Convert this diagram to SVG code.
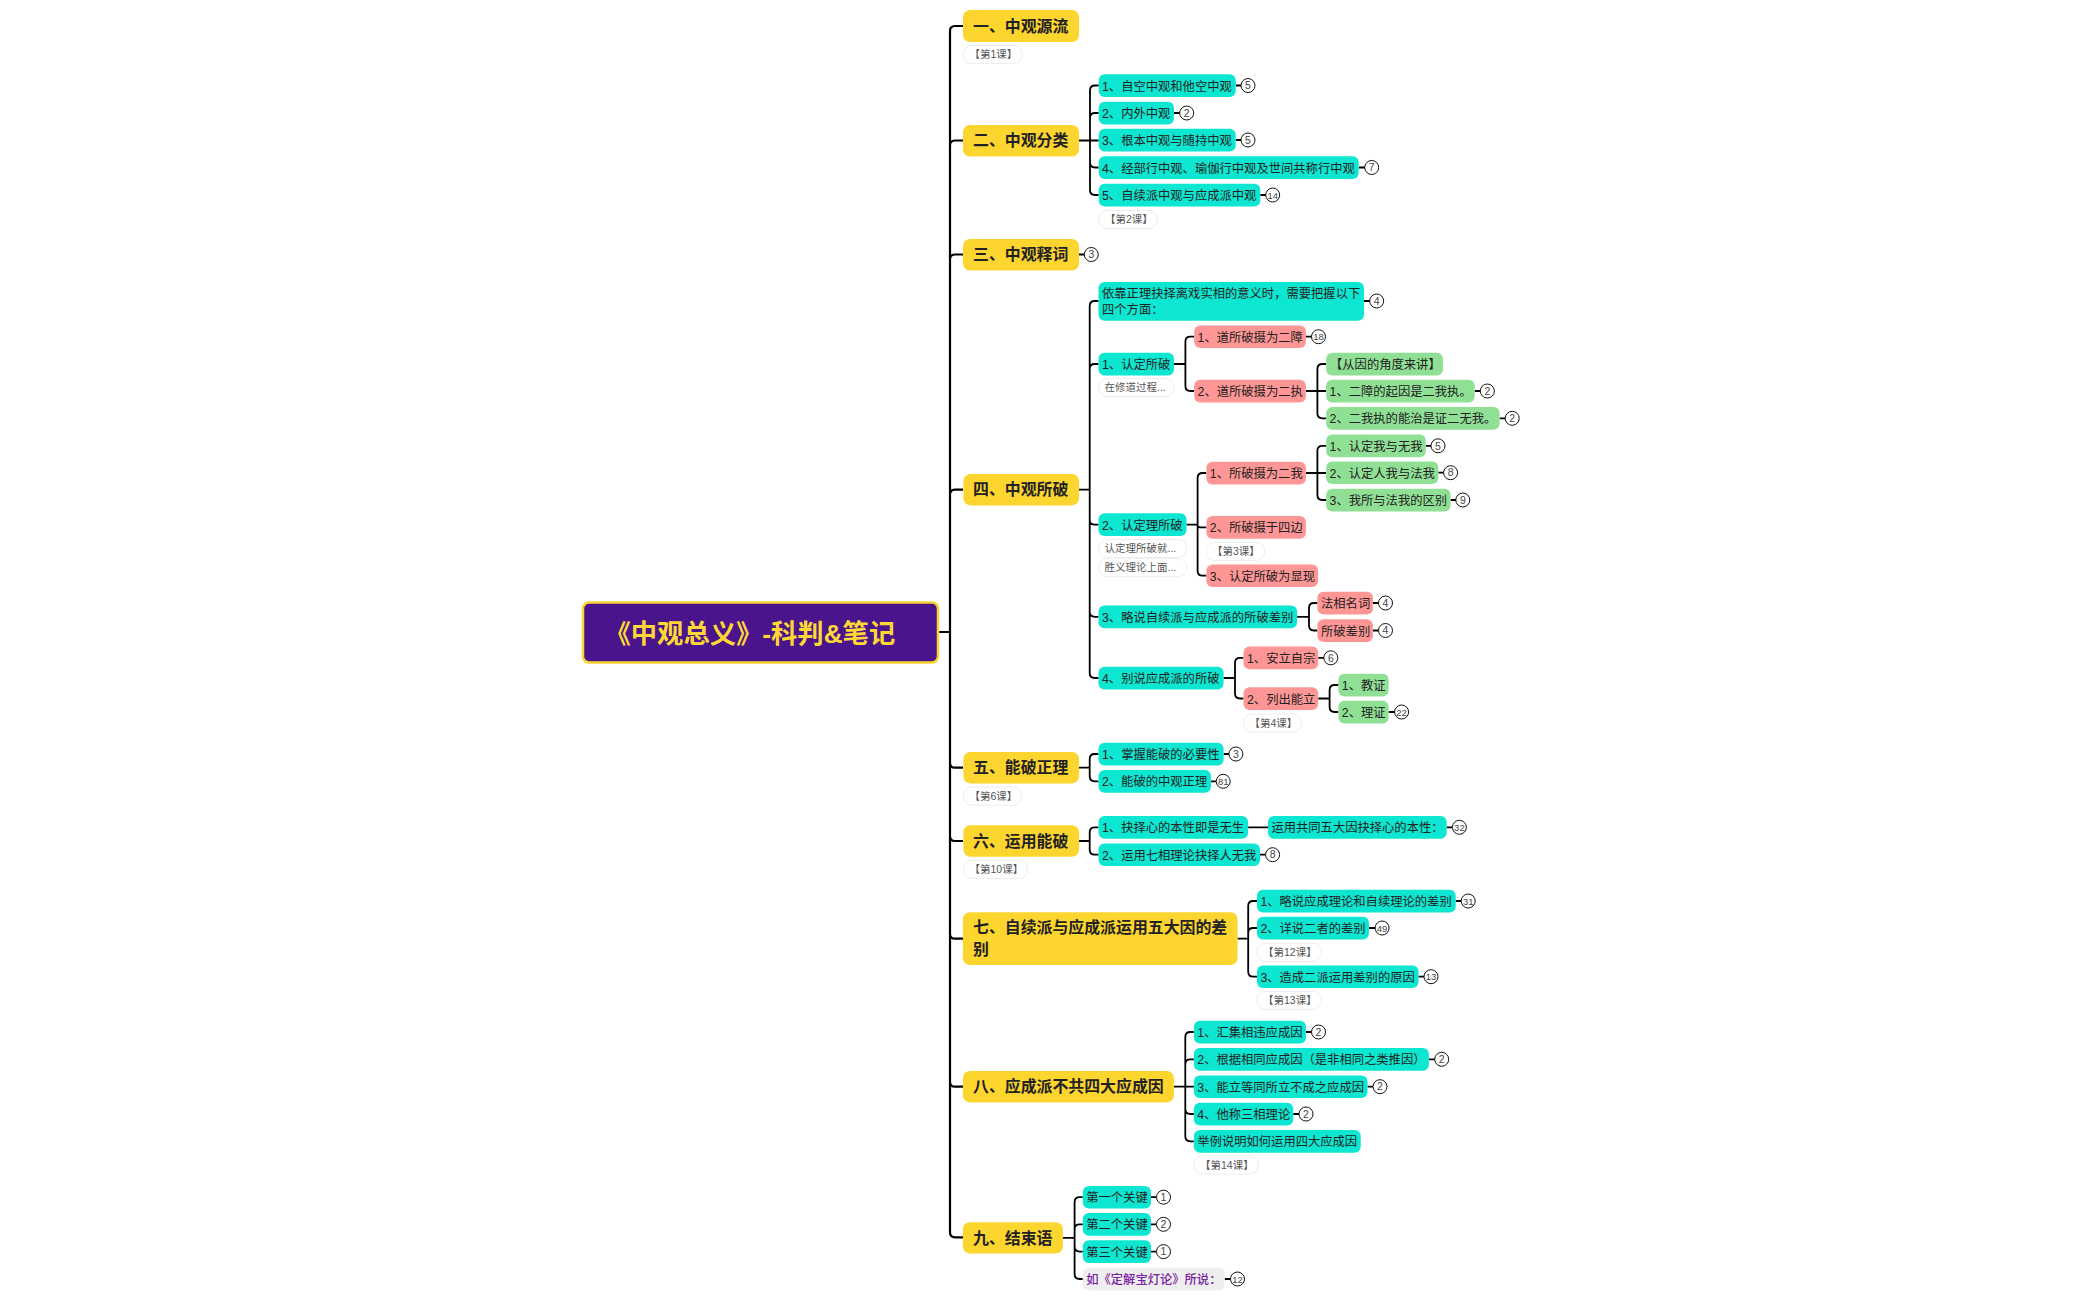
<svg xmlns="http://www.w3.org/2000/svg" width="2100" height="1300" viewBox="0 0 2100 1300">
<style>
text{font-family:"Liberation Sans","Noto Sans CJK SC",sans-serif;fill:#222}
.root{fill:#4a148c;stroke:#fdd32f;stroke-width:2.5}
.rt{font-size:26.300px;font-weight:bold;fill:#fdd835}
.a{fill:#fdd52f}
.at{font-size:15.900px;font-weight:bold;fill:#222;transform:translateY(.3px)}
.b{fill:#0de6d0}
.r{fill:#fe9696}
.g{fill:#8fdf95}
.p{fill:#eeeeee}
.bt{font-size:12.300px;transform:translateY(.7px)}
.pt{font-size:12.300px;font-weight:500;fill:#7b1fa2;transform:translateY(.7px)}
.n{fill:#fff;stroke:#eee;stroke-width:1}
.nt{font-size:10.500px;fill:#555;transform:translateY(.5px)}
.c{fill:#fff;stroke:#111;stroke-width:1}
.ct{font-size:10.500px;fill:#444;text-anchor:middle;transform:translateY(.6px)}
.ct2{font-size:9.500px;fill:#444;text-anchor:middle;transform:translateY(.5px)}
#connectors path{fill:none;stroke:#000;stroke-width:1.8}
#connectors path.s{stroke-width:2.200}
</style>
<g id="connectors">
<path class="s" d="M939 632H950M950 632V31Q950 26 955 26H963M950 145.500Q950 140.500 955 140.500H963M950 259.500Q950 254.500 955 254.500H963M950 494.700Q950 489.700 955 489.700H963M950 632V1232.300Q950 1237.300 955 1237.300H963M950 762.700Q950 767.700 955 767.700H963M950 836Q950 841 955 841H963M950 933.700Q950 938.700 955 938.700H963M950 1081.700Q950 1086.700 955 1086.700H963"/>
<path d="M1079 140.500H1098.700M1090 140.500V90.500Q1090 85.500 1095 85.500H1098.700M1090 140.500V118Q1090 113 1095 113H1098.700M1090 140.500V162.500Q1090 167.500 1095 167.500H1098.700M1090 140.500V190Q1090 195 1095 195H1098.700"/>
<path d="M1235.700 85.500H1241M1174 113H1180M1235.700 140H1241M1358.700 167.500H1365M1260.300 195H1266M1079 254.500H1084"/>
<path d="M1079 489.700H1089.700M1089.700 489.700V306Q1089.700 301 1094.700 301H1098.500M1089.700 489.700V369Q1089.700 364 1094.700 364H1098.500M1089.700 489.700V519.700Q1089.700 524.700 1094.700 524.700H1098.500M1089.700 489.700V611.800Q1089.700 616.800 1094.700 616.800H1098.500M1089.700 489.700V673Q1089.700 678 1094.700 678H1098.500"/>
<path d="M1364 301H1370M1305.900 336.700H1312M1474.700 391H1480M1499.600 418.300H1505M1425.700 445.800H1431M1438.300 472.700H1444M1450.600 500H1456M1372.900 603H1379M1372.900 630.500H1379M1318.200 657.800H1324M1388.600 712H1395M1223.600 754H1229M1211 781.300H1216M1446.700 827.300H1452M1260 854.700H1266M1455.700 901H1461M1368.900 928H1375M1418.500 976.700H1424M1306 1032H1311M1428.900 1059.300H1435M1367.500 1086.700H1373M1293.200 1114H1299M1151 1197.200H1156M1151 1224.300H1156M1151 1251.600H1156M1224.600 1279H1230"/>
<path d="M1174 364H1185.400M1185.400 364V341.700Q1185.400 336.700 1190.400 336.700H1194.200M1185.400 364V386Q1185.400 391 1190.400 391H1194.200"/>
<path d="M1305.900 391H1326.200M1317.400 391V369Q1317.400 364 1322.400 364H1326.200M1317.400 391V413.300Q1317.400 418.300 1322.400 418.300H1326.200"/>
<path d="M1186.500 524.700H1197.600M1197.600 524.700V478Q1197.600 473 1202.600 473H1206.400M1197.600 524.700V525Q1197.600 527.300 1200 527.300H1206.400M1197.600 524.700V570.700Q1197.600 575.700 1202.600 575.700H1206.400"/>
<path d="M1305.900 473H1326.200M1317.400 473V450.800Q1317.400 445.800 1322.400 445.800H1326.200M1317.400 473V495Q1317.400 500 1322.400 500H1326.200"/>
<path d="M1297.100 616.800H1309M1309 616.800V608Q1309 603 1314 603H1317.400M1309 616.800V625.500Q1309 630.500 1314 630.500H1317.400"/>
<path d="M1223.600 678H1235M1235 678V662.800Q1235 657.800 1240 657.800H1243.500M1235 678V693.500Q1235 698.500 1240 698.500H1243.500"/>
<path d="M1318.200 698.500H1329.600M1329.600 698.500V690Q1329.600 685 1334.600 685H1338.400M1329.600 698.500V707Q1329.600 712 1334.600 712H1338.400"/>
<path d="M1079 767.700H1089.700M1089.700 767.700V759Q1089.700 754 1094.700 754H1098.500M1089.700 767.700V776.300Q1089.700 781.300 1094.700 781.300H1098.500"/>
<path d="M1079 841H1089.700M1089.700 841V832.300Q1089.700 827.300 1094.700 827.300H1098.500M1089.700 841V849.700Q1089.700 854.700 1094.700 854.700H1098.500M1248.100 827.300H1268"/>
<path d="M1237.500 938.700H1248.200M1248.200 938.700V906Q1248.200 901 1253.200 901H1257M1248.200 938.700V933Q1248.200 928 1253.200 928H1257M1248.200 938.700V971.700Q1248.200 976.700 1253.200 976.700H1257"/>
<path d="M1173.900 1086.700H1193.900M1185.300 1086.700V1037Q1185.300 1032 1190.300 1032H1193.900M1185.300 1086.700V1064.300Q1185.300 1059.300 1190.300 1059.300H1193.900M1185.300 1086.700V1109Q1185.300 1114 1190.300 1114H1193.900M1185.300 1086.700V1136.300Q1185.300 1141.300 1190.300 1141.300H1193.900"/>
<path d="M1062.900 1237.800H1074.600M1074.600 1237.800V1202.200Q1074.600 1197.200 1079.600 1197.200H1082.800M1074.600 1237.800V1229.300Q1074.600 1224.300 1079.600 1224.300H1082.800M1074.600 1237.800V1246.600Q1074.600 1251.600 1079.600 1251.600H1082.800M1074.600 1237.800V1274Q1074.600 1279 1079.600 1279H1082.800"/>
</g>
<g id="root"><rect class="root" x="583" y="602.500" width="355" height="60" rx="6"/><text class="rt" x="604.500" y="642.500">《中观总义》-科判&amp;笔记</text></g>
<g id="n1"><rect class="a" x="963" y="10" width="116" height="32" rx="7"/><text class="at" x="973" y="31.500">一、中观源流</text><rect class="n" x="963.500" y="45.500" width="58.500" height="18" rx="8"/><text class="nt" x="969.500" y="57.500">【第1课】</text></g>
<g id="n2"><rect class="a" x="963" y="125" width="116" height="31.500" rx="7"/><text class="at" x="973" y="146">二、中观分类</text></g>
<g id="n2-1"><rect class="b" x="1098.700" y="74.200" width="137" height="22.700" rx="6"/><text class="bt" x="1102" y="90">1、自空中观和他空中观</text><circle class="c" cx="1248" cy="85.500" r="7"/><text class="ct" x="1248" y="88.700">5</text></g>
<g id="n2-2"><rect class="b" x="1098.700" y="101.700" width="75.300" height="22.700" rx="6"/><text class="bt" x="1102" y="117.500">2、内外中观</text><circle class="c" cx="1186.700" cy="113" r="7"/><text class="ct" x="1186.700" y="116.200">2</text></g>
<g id="n2-3"><rect class="b" x="1098.700" y="128.700" width="137" height="22.700" rx="6"/><text class="bt" x="1102" y="144.500">3、根本中观与随持中观</text><circle class="c" cx="1248" cy="140" r="7"/><text class="ct" x="1248" y="143.200">5</text></g>
<g id="n2-4"><rect class="b" x="1098.700" y="156.200" width="260" height="22.700" rx="6"/><text class="bt" x="1102" y="172">4、经部行中观、瑜伽行中观及世间共称行中观</text><circle class="c" cx="1371.700" cy="167.500" r="7"/><text class="ct" x="1371.700" y="170.700">7</text></g>
<g id="n2-5"><rect class="b" x="1098.700" y="183.700" width="161.600" height="22.700" rx="6"/><text class="bt" x="1102" y="199.500">5、自续派中观与应成派中观</text><circle class="c" cx="1272.700" cy="195" r="7"/><text class="ct2" x="1272.700" y="198">14</text><rect class="n" x="1099" y="210.500" width="58" height="18" rx="8"/><text class="nt" x="1105" y="222.500">【第2课】</text></g>
<g id="n3"><rect class="a" x="963" y="239" width="116" height="31.500" rx="7"/><text class="at" x="973" y="260">三、中观释词</text><circle class="c" cx="1091.300" cy="254.500" r="7"/><text class="ct" x="1091.300" y="257.700">3</text></g>
<g id="n4"><rect class="a" x="963.400" y="474" width="115.600" height="31.400" rx="7"/><text class="at" x="973" y="495">四、中观所破</text></g>
<g id="n4-a"><rect class="b" x="1098.500" y="282" width="265.500" height="38.700" rx="6"/><text class="bt" x="1102" y="297.500">依靠正理抉择离戏实相的意义时，需要把握以下</text><text class="bt" x="1102" y="313.500">四个方面：</text><circle class="c" cx="1376.700" cy="301" r="7"/><text class="ct" x="1376.700" y="304.200">4</text></g>
<g id="n4-b"><rect class="b" x="1098.500" y="352.700" width="75.500" height="22.700" rx="6"/><text class="bt" x="1102" y="368.500">1、认定所破</text><rect class="n" x="1099" y="378.500" width="75" height="18" rx="8"/><text class="nt" x="1104.500" y="390.500">在修道过程...</text></g>
<g id="n4-b1"><rect class="r" x="1194.200" y="325.400" width="111.700" height="22.700" rx="6"/><text class="bt" x="1197.600" y="341">1、道所破摄为二障</text><circle class="c" cx="1318.500" cy="336.700" r="7"/><text class="ct2" x="1318.500" y="339.700">18</text></g>
<g id="n4-b2"><rect class="r" x="1194.200" y="379.700" width="111.700" height="22.700" rx="6"/><text class="bt" x="1197.600" y="395.500">2、道所破摄为二执</text></g>
<g id="n4-b2a"><rect class="g" x="1326.200" y="352.700" width="116.700" height="22.700" rx="6"/><text class="bt" x="1330" y="368.500">【从因的角度来讲】</text></g>
<g id="n4-b2b"><rect class="g" x="1326.200" y="379.700" width="148.500" height="22.700" rx="6"/><text class="bt" x="1329.600" y="395.500">1、二障的起因是二我执。</text><circle class="c" cx="1487.300" cy="391" r="7"/><text class="ct" x="1487.300" y="394.200">2</text></g>
<g id="n4-b2c"><rect class="g" x="1326.200" y="407" width="173.400" height="22.700" rx="6"/><text class="bt" x="1329.600" y="422.800">2、二我执的能治是证二无我。</text><circle class="c" cx="1512.200" cy="418.300" r="7"/><text class="ct" x="1512.200" y="421.500">2</text></g>
<g id="n4-c"><rect class="b" x="1098.500" y="513.300" width="88" height="22.700" rx="6"/><text class="bt" x="1102" y="529.200">2、认定理所破</text><rect class="n" x="1099" y="539.500" width="87.500" height="18" rx="8"/><text class="nt" x="1104.500" y="551.500">认定理所破就...</text><rect class="n" x="1099" y="558.700" width="87.500" height="18" rx="8"/><text class="nt" x="1104.500" y="570.700">胜义理论上面...</text></g>
<g id="n4-c1"><rect class="r" x="1206.400" y="461.700" width="99.500" height="22.700" rx="6"/><text class="bt" x="1209.800" y="477.500">1、所破摄为二我</text></g>
<g id="n4-c1a"><rect class="g" x="1326.200" y="434.500" width="99.500" height="22.700" rx="6"/><text class="bt" x="1329.600" y="450.300">1、认定我与无我</text><circle class="c" cx="1438" cy="445.800" r="7"/><text class="ct" x="1438" y="449">5</text></g>
<g id="n4-c1b"><rect class="g" x="1326.200" y="461.400" width="112.100" height="22.700" rx="6"/><text class="bt" x="1329.600" y="477.200">2、认定人我与法我</text><circle class="c" cx="1450.600" cy="472.700" r="7"/><text class="ct" x="1450.600" y="475.900">8</text></g>
<g id="n4-c1c"><rect class="g" x="1326.200" y="488.700" width="124.400" height="22.700" rx="6"/><text class="bt" x="1329.600" y="504.500">3、我所与法我的区别</text><circle class="c" cx="1462.800" cy="500" r="7"/><text class="ct" x="1462.800" y="503.200">9</text></g>
<g id="n4-c2"><rect class="r" x="1206.400" y="516" width="99.500" height="22.700" rx="6"/><text class="bt" x="1209.800" y="531.800">2、所破摄于四边</text><rect class="n" x="1206" y="542.500" width="58.500" height="18" rx="8"/><text class="nt" x="1212" y="554.500">【第3课】</text></g>
<g id="n4-c3"><rect class="r" x="1206.400" y="564.400" width="111.700" height="22.700" rx="6"/><text class="bt" x="1209.800" y="580.200">3、认定所破为显现</text></g>
<g id="n4-d"><rect class="b" x="1098.500" y="605.500" width="198.600" height="22.700" rx="6"/><text class="bt" x="1102" y="621.300">3、略说自续派与应成派的所破差别</text></g>
<g id="n4-d1"><rect class="r" x="1317.400" y="591.700" width="55.500" height="22.700" rx="6"/><text class="bt" x="1321" y="607.500">法相名词</text><circle class="c" cx="1385.500" cy="603" r="7"/><text class="ct" x="1385.500" y="606.200">4</text></g>
<g id="n4-d2"><rect class="r" x="1317.400" y="619.200" width="55.500" height="22.700" rx="6"/><text class="bt" x="1321" y="635">所破差别</text><circle class="c" cx="1385.500" cy="630.500" r="7"/><text class="ct" x="1385.500" y="633.700">4</text></g>
<g id="n4-e"><rect class="b" x="1098.500" y="666.700" width="125.100" height="22.700" rx="6"/><text class="bt" x="1102" y="682.500">4、别说应成派的所破</text></g>
<g id="n4-e1"><rect class="r" x="1243.500" y="646.500" width="74.700" height="22.700" rx="6"/><text class="bt" x="1247" y="662.300">1、安立自宗</text><circle class="c" cx="1330.800" cy="657.800" r="7"/><text class="ct" x="1330.800" y="661">6</text></g>
<g id="n4-e2"><rect class="r" x="1243.500" y="687.200" width="74.700" height="22.700" rx="6"/><text class="bt" x="1247" y="703">2、列出能立</text><rect class="n" x="1243.500" y="714" width="58" height="18" rx="8"/><text class="nt" x="1249.500" y="726">【第4课】</text></g>
<g id="n4-e2a"><rect class="g" x="1338.400" y="673.700" width="50.200" height="22.700" rx="6"/><text class="bt" x="1341.800" y="689.500">1、教证</text></g>
<g id="n4-e2b"><rect class="g" x="1338.400" y="700.700" width="50.200" height="22.700" rx="6"/><text class="bt" x="1341.800" y="716.500">2、理证</text><circle class="c" cx="1401.600" cy="712" r="7"/><text class="ct2" x="1401.600" y="715">22</text></g>
<g id="n5"><rect class="a" x="963.400" y="752" width="115.600" height="31.400" rx="7"/><text class="at" x="973" y="773">五、能破正理</text><rect class="n" x="963.500" y="787" width="58" height="18" rx="8"/><text class="nt" x="969.500" y="799">【第6课】</text></g>
<g id="n5-1"><rect class="b" x="1098.500" y="742.700" width="125.100" height="22.700" rx="6"/><text class="bt" x="1102" y="758.500">1、掌握能破的必要性</text><circle class="c" cx="1235.900" cy="754" r="7"/><text class="ct" x="1235.900" y="757.200">3</text></g>
<g id="n5-2"><rect class="b" x="1098.500" y="770" width="112.500" height="22.700" rx="6"/><text class="bt" x="1102" y="785.800">2、能破的中观正理</text><circle class="c" cx="1223.200" cy="781.300" r="7"/><text class="ct2" x="1223.200" y="784.300">81</text></g>
<g id="n6"><rect class="a" x="963.400" y="825.300" width="115.600" height="31.400" rx="7"/><text class="at" x="973" y="846.500">六、运用能破</text><rect class="n" x="963.500" y="860.500" width="64" height="18" rx="8"/><text class="nt" x="969.500" y="872.500">【第10课】</text></g>
<g id="n6-1"><rect class="b" x="1098.500" y="816" width="149.600" height="22.700" rx="6"/><text class="bt" x="1102" y="831.800">1、抉择心的本性即是无生</text></g>
<g id="n6-1a"><rect class="b" x="1268" y="816" width="178.700" height="22.700" rx="6"/><text class="bt" x="1271.400" y="831.800">运用共同五大因抉择心的本性：</text><circle class="c" cx="1459.400" cy="827.300" r="7"/><text class="ct2" x="1459.400" y="830.300">32</text></g>
<g id="n6-2"><rect class="b" x="1098.500" y="843.400" width="161.500" height="22.700" rx="6"/><text class="bt" x="1102" y="859.200">2、运用七相理论抉择人无我</text><circle class="c" cx="1272.600" cy="854.700" r="7"/><text class="ct" x="1272.600" y="857.900">8</text></g>
<g id="n7"><rect class="a" x="962.900" y="912.300" width="274.600" height="52.700" rx="7"/><text class="at" x="973" y="932.500">七、自续派与应成派运用五大因的差</text><text class="at" x="973" y="954.800">别</text></g>
<g id="n7-1"><rect class="b" x="1257" y="889.700" width="198.700" height="22.700" rx="6"/><text class="bt" x="1260.400" y="905.500">1、略说应成理论和自续理论的差别</text><circle class="c" cx="1468.200" cy="901" r="7"/><text class="ct2" x="1468.200" y="904">31</text></g>
<g id="n7-2"><rect class="b" x="1257" y="916.700" width="111.900" height="22.700" rx="6"/><text class="bt" x="1260.400" y="932.500">2、详说二者的差别</text><circle class="c" cx="1382.100" cy="928" r="7"/><text class="ct2" x="1382.100" y="931">49</text><rect class="n" x="1257" y="943.500" width="64.400" height="18" rx="8"/><text class="nt" x="1263" y="955.500">【第12课】</text></g>
<g id="n7-3"><rect class="b" x="1257" y="965.400" width="161.500" height="22.700" rx="6"/><text class="bt" x="1260.400" y="981.200">3、造成二派运用差别的原因</text><circle class="c" cx="1431" cy="976.700" r="7"/><text class="ct2" x="1431" y="979.700">13</text><rect class="n" x="1257" y="991.500" width="64.400" height="18" rx="8"/><text class="nt" x="1263" y="1003.500">【第13课】</text></g>
<g id="n8"><rect class="a" x="962.900" y="1071" width="211" height="31.400" rx="7"/><text class="at" x="973" y="1092">八、应成派不共四大应成因</text></g>
<g id="n8-1"><rect class="b" x="1193.900" y="1020.700" width="112.100" height="22.700" rx="6"/><text class="bt" x="1197.300" y="1036.500">1、汇集相违应成因</text><circle class="c" cx="1318.500" cy="1032" r="7"/><text class="ct" x="1318.500" y="1035.200">2</text></g>
<g id="n8-2"><rect class="b" x="1193.900" y="1048" width="235" height="22.700" rx="6"/><text class="bt" x="1197.300" y="1063.800">2、根据相同应成因（是非相同之类推因）</text><circle class="c" cx="1441.700" cy="1059.300" r="7"/><text class="ct" x="1441.700" y="1062.500">2</text></g>
<g id="n8-3"><rect class="b" x="1193.900" y="1075.400" width="173.600" height="22.700" rx="6"/><text class="bt" x="1197.300" y="1091.200">3、能立等同所立不成之应成因</text><circle class="c" cx="1380" cy="1086.700" r="7"/><text class="ct" x="1380" y="1089.900">2</text></g>
<g id="n8-4"><rect class="b" x="1193.900" y="1102.700" width="99.300" height="22.700" rx="6"/><text class="bt" x="1197.300" y="1118.500">4、他称三相理论</text><circle class="c" cx="1306" cy="1114" r="7"/><text class="ct" x="1306" y="1117.200">2</text></g>
<g id="n8-5"><rect class="b" x="1193.900" y="1130" width="166.800" height="22.700" rx="6"/><text class="bt" x="1197.300" y="1145.800">举例说明如何运用四大应成因</text><rect class="n" x="1193.900" y="1156" width="64.300" height="18" rx="8"/><text class="nt" x="1200" y="1168">【第14课】</text></g>
<g id="n9"><rect class="a" x="962.900" y="1222.200" width="100" height="31.400" rx="7"/><text class="at" x="973" y="1243.500">九、结束语</text></g>
<g id="n9-1"><rect class="b" x="1082.800" y="1185.900" width="68.200" height="22.700" rx="6"/><text class="bt" x="1086.200" y="1201.700">第一个关键</text><circle class="c" cx="1163.500" cy="1197.200" r="7"/><text class="ct" x="1163.500" y="1200.400">1</text></g>
<g id="n9-2"><rect class="b" x="1082.800" y="1213" width="68.200" height="22.700" rx="6"/><text class="bt" x="1086.200" y="1228.800">第二个关键</text><circle class="c" cx="1163.500" cy="1224.300" r="7"/><text class="ct" x="1163.500" y="1227.500">2</text></g>
<g id="n9-3"><rect class="b" x="1082.800" y="1240.300" width="68.200" height="22.700" rx="6"/><text class="bt" x="1086.200" y="1256.100">第三个关键</text><circle class="c" cx="1163.500" cy="1251.600" r="7"/><text class="ct" x="1163.500" y="1254.800">1</text></g>
<g id="n9-4"><rect class="p" x="1082.800" y="1267.700" width="141.800" height="22.700" rx="6"/><text class="pt" x="1086.200" y="1283.500">如《定解宝灯论》所说：</text><circle class="c" cx="1237.500" cy="1279" r="7"/><text class="ct2" x="1237.500" y="1282">12</text></g>
</svg>
